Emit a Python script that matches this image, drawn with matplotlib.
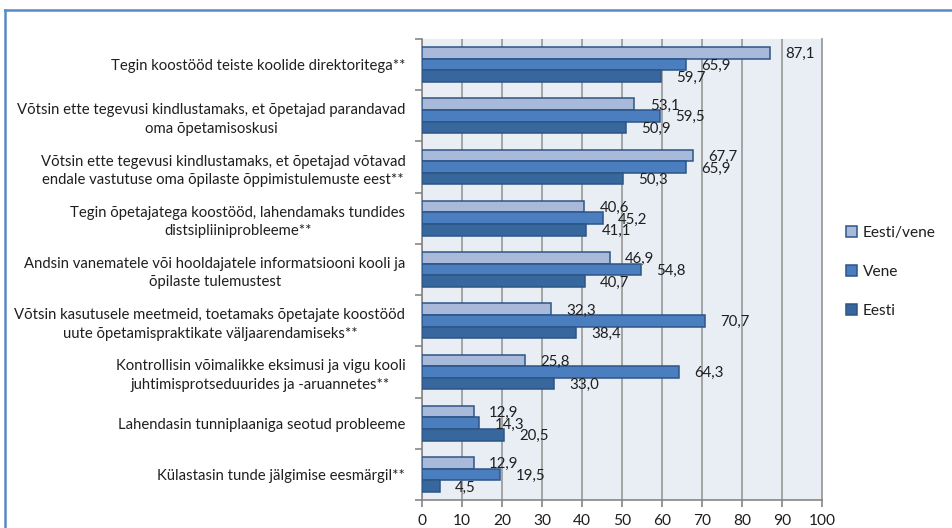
import matplotlib.pyplot as plt
import numpy as np
from matplotlib.patches import Patch
from matplotlib.lines import Line2D

categories = [
    "Tegin koostööd teiste koolide direktoritega**",
    "Võtsin ette tegevusi kindlustamaks, et õpetajad parandavad\noma õpetamisoskusi",
    "Võtsin ette tegevusi kindlustamaks, et õpetajad võtavad\nendale vastutuse oma õpilaste õppimistulemuste eest**",
    "Tegin õpetajatega koostööd, lahendamaks tundides\ndistsipliiniprobleeme**",
    "Andsin vanematele või hooldajatele informatsiooni kooli ja\nõpilaste tulemustest",
    "Võtsin kasutusele meetmeid, toetamaks õpetajate koostööd\nuute õpetamispraktikate väljaarendamiseks**",
    "Kontrollisin võimalikke eksimusi ja vigu kooli\njuhtimisprotseduurides ja -aruannetes**",
    "Lahendasin tunniplaaniga seotud probleeme",
    "Külastasin tunde jälgimise eesmärgil**",
]
eesti_vene = [87.1, 53.1, 67.7, 40.6, 46.9, 32.3, 25.8, 12.9, 12.9]
vene = [65.9, 59.5, 65.9, 45.2, 54.8, 70.7, 64.3, 14.3, 19.5]
eesti = [59.7, 50.9, 50.3, 41.1, 40.7, 38.4, 33.0, 20.5, 4.5]
series_names = ["Eesti/vene", "Vene", "Eesti"]
colors = ["#A9B9DA", "#4A7EBF", "#37679C"]
edge = "#2C5586"

plt.rcParams['font.family'] = ['Lato', 'DejaVu Sans']
txt = "#1F1F1F"

fig = plt.figure(figsize=(9.53, 5.28), dpi=100)
ax = fig.add_axes((422 / 953, 1 - 500 / 528, 400 / 953, 461 / 528))
ax.set_facecolor("#E9EDF4")

y = np.arange(len(categories))
h = 0.227
for k, (vals, c) in enumerate(zip([eesti_vene, vene, eesti], colors)):
    pos = y + (k - 1) * h
    ax.barh(pos, vals, height=h, color=c, edgecolor=edge, linewidth=1.1, zorder=3)
    for p, v in zip(pos, vals):
        ax.annotate(f"{v:.1f}".replace(".", ","), (v, p), xytext=(11, -1),
                    textcoords="offset points", ha="left", va="center",
                    fontsize=10.8, color=txt, zorder=4)

ax.set_xlim(0, 100)
ax.set_ylim(len(categories) - 0.5, -0.5)
ax.set_xticks(np.arange(0, 101, 10))
ax.grid(axis="x", color="#A3A3A3", linewidth=1.4, zorder=1)
ax.set_axisbelow(True)

ax.set_yticks(y)
ax.set_yticklabels(categories, fontsize=10.7, color=txt, multialignment="center",
                   linespacing=1.4)
ax.tick_params(axis="y", length=0, pad=12)
ax.set_yticks(np.arange(-0.5, len(categories), 1), minor=True)
ax.tick_params(axis="y", which="minor", length=5, color="#868686", width=1.2)
ax.tick_params(axis="x", length=5, color="#868686", width=1.2, labelsize=11.2,
               labelcolor=txt, pad=5)

ax.spines["top"].set_visible(False)
ax.spines["right"].set_color("#A3A3A3")
ax.spines["right"].set_linewidth(1.4)
for s in ["left", "bottom"]:
    ax.spines[s].set_color("#868686")
    ax.spines[s].set_linewidth(1.2)

handles = [Patch(facecolor=c, edgecolor=edge, linewidth=1.1) for c in colors]
fig.legend(handles, series_names, loc="center left",
           bbox_to_anchor=(832 / 953, 1 - 272 / 528), frameon=False,
           fontsize=11.2, handlelength=0.7, handleheight=0.7,
           handletextpad=0.4, labelspacing=1.6, labelcolor=txt)

# outer chart frame (top and left edges visible)
frame_col = "#5A8AC6"
fig.add_artist(Line2D([5 / 953, 1], [1 - 10 / 528, 1 - 10 / 528],
                      transform=fig.transFigure, color=frame_col, linewidth=1.8))
fig.add_artist(Line2D([5 / 953, 5 / 953], [0, 1 - 10 / 528],
                      transform=fig.transFigure, color=frame_col, linewidth=1.8))

fig.savefig("out.png", dpi=100)
